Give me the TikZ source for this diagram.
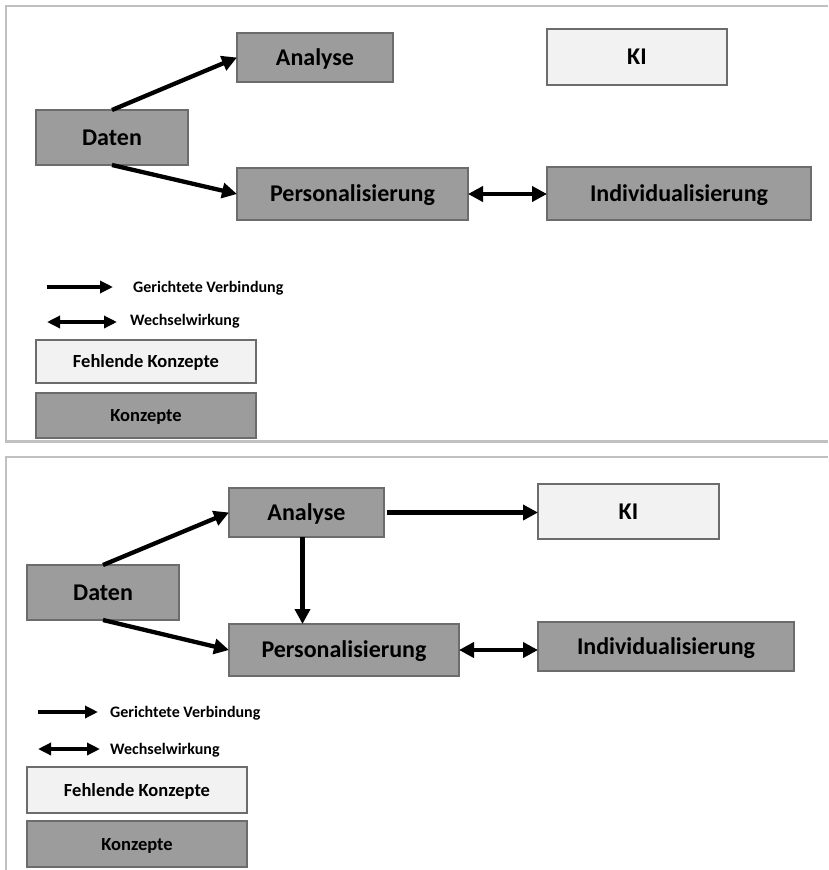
\documentclass[tikz,border=0pt]{standalone}
\usepackage{fontspec}
\setmainfont{Carlito}
\usetikzlibrary{arrows.meta,calc}
\definecolor{boxdark}{RGB}{156,156,156}
\definecolor{boxlight}{RGB}{242,242,242}
\definecolor{boxedge}{RGB}{108,108,108}
\definecolor{frameline}{RGB}{192,192,192}
\tikzset{
  x=1pt,y=-1pt,
  concept/.style={draw=boxedge,line width=2.2pt,fill=boxdark,inner sep=0pt,outer sep=0pt,
    text height=15.5pt,text depth=0pt,
    font=\bfseries\fontsize{24}{28}\selectfont},
  missing/.style={concept,fill=boxlight},
  legbox/.style={draw=boxedge,line width=2.2pt,inner sep=0pt,outer sep=0pt,minimum width=220pt,
    text height=12pt,text depth=0pt,
    font=\bfseries\fontsize{18.5}{22}\selectfont},
  legtext/.style={anchor=west,inner sep=0pt,text height=10.3pt,text depth=0pt,
    font=\bfseries\fontsize{16}{19}\selectfont},
  conn/.style={line width=4.3pt,-{Triangle[length=15pt,width=15pt]}},
  biconn/.style={line width=4.3pt,{Triangle[length=15pt,width=15pt]}-{Triangle[length=15pt,width=15pt]}},
  legarrow/.style={line width=4pt,-{Triangle[length=13pt,width=12pt]}},
  legbiarrow/.style={line width=4pt,{Triangle[length=13pt,width=12pt]}-{Triangle[length=13pt,width=12pt]}},
  frame/.style={draw=frameline,line width=2.5pt}
}
\begin{document}
\begin{tikzpicture}
\useasboundingbox (0,0) rectangle (828,870);
% panel frames
\draw[frame] (828,6) -- (6,6) -- (6,441.5) -- (828,441.5);
\draw[frame] (828,457) -- (6,457) -- (6,872);

% ---------- top panel ----------
\node[concept,minimum width=152pt,minimum height=55pt] (d1) at (112,137.5) {Daten};
\node[concept,minimum width=156pt,minimum height=49pt] (a1) at (315,57.5) {Analyse};
\node[concept,minimum width=231pt,minimum height=52pt] (p1) at (352.5,194) {Personalisierung};
\node[missing,minimum width=180pt,minimum height=56pt] (k1) at (637,57) {KI};
\node[concept,minimum width=264pt,minimum height=53pt] (i1) at (679,193.5) {Individualisierung};
\draw[conn] (d1.north) -- (a1.west);
\draw[conn] (d1.south) -- (p1.west);
\draw[biconn] (p1.east) -- (p1.east -| i1.west);

\coordinate (la1s) at (47,287); \coordinate (la1e) at (113,287);
\draw[legarrow] (la1s) -- (la1e);
\node[legtext] (lt1) at (133,287) {Gerichtete Verbindung};
\coordinate (lb1s) at (47,322); \coordinate (lb1e) at (117,322);
\draw[legbiarrow] (lb1s) -- (lb1e);
\node[legtext] (lw1) at (130,320) {Wechselwirkung};
\node[legbox,fill=boxlight,minimum height=43pt] (lf1) at (146,361.5) {Fehlende Konzepte};
\node[legbox,fill=boxdark,minimum height=45pt] (lk1) at (146,415.5) {Konzepte};

% ---------- bottom panel ----------
\node[concept,minimum width=152pt,minimum height=55pt] (d2) at (103,592.5) {Daten};
\node[concept,minimum width=155pt,minimum height=49pt] (a2) at (306.5,512.5) {Analyse};
\node[concept,minimum width=230pt,minimum height=52pt] (p2) at (344,650) {Personalisierung};
\node[missing,minimum width=181pt,minimum height=55pt] (k2) at (628.5,511.5) {KI};
\node[concept,minimum width=256pt,minimum height=49pt] (i2) at (666,646.5) {Individualisierung};
\draw[conn] (d2.north) -- (a2.west);
\draw[conn] (d2.south) -- (p2.west);
\draw[conn] ($(a2.east)+(3,0)$) -- (a2.east -| k2.west);
\draw[conn] ($(a2.south)+(-4,0)$) -- ($(a2.south |- p2.north)+(-4,0)$);
\draw[biconn] (p2.east) -- (p2.east -| i2.west);

\coordinate (la2s) at (38,712); \coordinate (la2e) at (98,712);
\draw[legarrow] (la2s) -- (la2e);
\node[legtext] (lt2) at (110,712) {Gerichtete Verbindung};
\coordinate (lb2s) at (38,749); \coordinate (lb2e) at (100,749);
\draw[legbiarrow] (lb2s) -- (lb2e);
\node[legtext] (lw2) at (110,749) {Wechselwirkung};
\node[legbox,fill=boxlight,minimum height=46pt] (lf2) at (137,790) {Fehlende Konzepte};
\node[legbox,fill=boxdark,minimum height=46pt] (lk2) at (137,844) {Konzepte};
\end{tikzpicture}
\end{document}
